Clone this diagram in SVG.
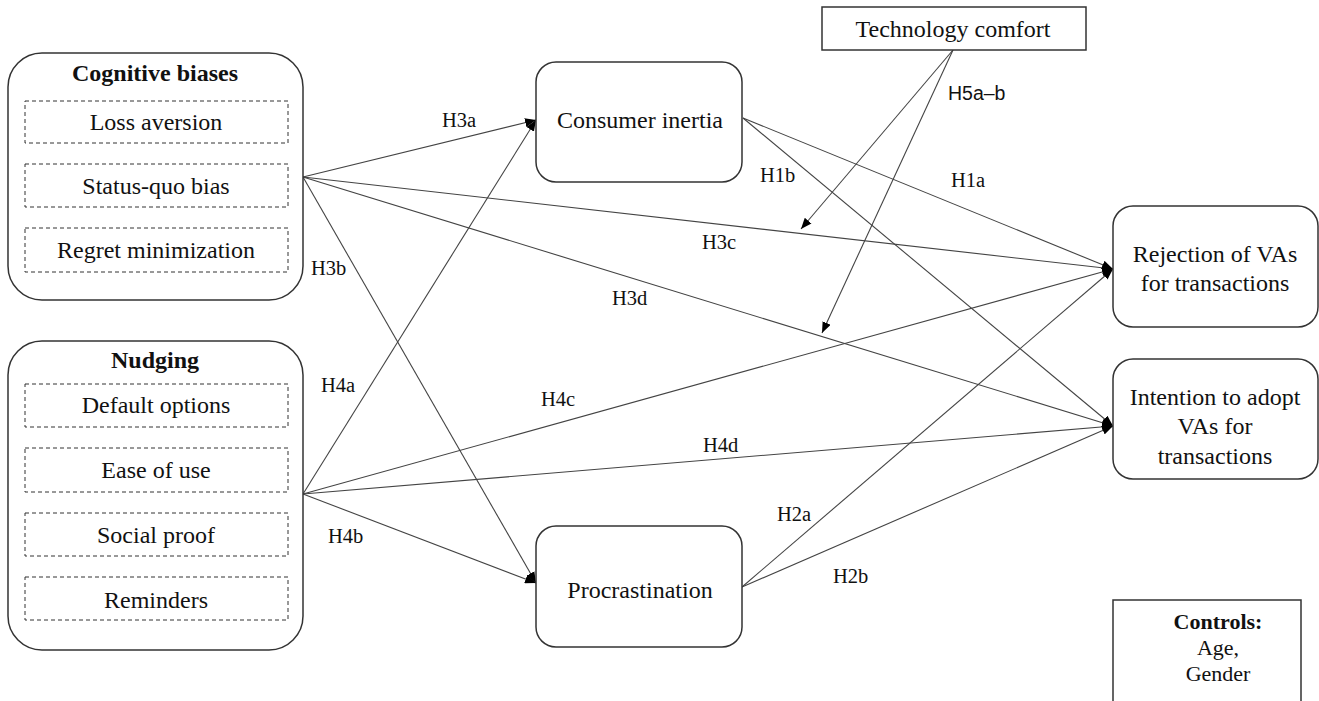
<svg xmlns="http://www.w3.org/2000/svg" width="1319" height="701" viewBox="0 0 1319 701">
<style>
.box{fill:#fff;stroke:#333;stroke-width:1.5}
.dash{fill:none;stroke:#333;stroke-width:1;stroke-dasharray:4 3}
.t{font-family:"Liberation Serif","Times New Roman",serif;font-size:24px;fill:#111;text-anchor:middle}
.b{font-weight:bold;font-size:24px}
.ct{font-size:22px}
.lab{font-family:"Liberation Serif","Times New Roman",serif;font-size:20.5px;fill:#111}
.sans{font-family:"Liberation Sans",Arial,sans-serif;font-size:19.5px;fill:#111}
.c{fill:none;stroke:#444;stroke-width:1.1;marker-end:url(#ah)}
</style>
<defs>
<marker id="ah" viewBox="0 0 10 8" refX="10" refY="4" markerWidth="11" markerHeight="9" markerUnits="userSpaceOnUse" orient="auto">
<path d="M0,0 L10,4 L0,8 z" fill="#000"/>
</marker>
</defs>
<rect width="1319" height="701" fill="#fff"/>
<g id="connectors">
<line class="c" x1="303" y1="177" x2="536" y2="120"/>
<line class="c" x1="303" y1="177" x2="536" y2="583"/>
<line class="c" x1="303" y1="177" x2="1113" y2="269"/>
<line class="c" x1="303" y1="177" x2="1113" y2="426"/>
<line class="c" x1="303" y1="494" x2="536" y2="120"/>
<line class="c" x1="303" y1="494" x2="536" y2="583"/>
<line class="c" x1="303" y1="494" x2="1113" y2="269"/>
<line class="c" x1="303" y1="494" x2="1113" y2="426"/>
<line class="c" x1="743" y1="118" x2="1113" y2="269"/>
<line class="c" x1="743" y1="118" x2="1113" y2="426"/>
<line class="c" x1="742" y1="587" x2="1113" y2="269"/>
<line class="c" x1="742" y1="587" x2="1113" y2="426"/>
<line class="c" x1="953" y1="50" x2="801" y2="229"/>
<line class="c" x1="953" y1="50" x2="822" y2="333"/>
</g>
<g id="labels">
<text class="lab" x="442" y="127">H3a</text>
<text class="lab" x="311" y="275">H3b</text>
<text class="lab" x="702" y="249">H3c</text>
<text class="lab" x="612" y="305">H3d</text>
<text class="lab" x="321" y="392">H4a</text>
<text class="lab" x="328" y="543">H4b</text>
<text class="lab" x="541" y="406">H4c</text>
<text class="lab" x="703" y="452">H4d</text>
<text class="lab" x="760" y="182">H1b</text>
<text class="lab" x="951" y="187">H1a</text>
<text class="lab" x="777" y="521">H2a</text>
<text class="lab" x="833" y="583">H2b</text>
<text class="sans" x="948" y="100">H5a–b</text>
</g>
<g id="cognitive-biases">
<rect class="box" x="8" y="53" width="295" height="247" rx="34"/>
<text class="t b" x="155" y="81">Cognitive biases</text>
<rect class="dash" x="25" y="101" width="263" height="42"/>
<text class="t" x="156" y="130">Loss aversion</text>
<rect class="dash" x="25" y="164" width="263" height="43"/>
<text class="t" x="156" y="194">Status-quo bias</text>
<rect class="dash" x="25" y="228" width="263" height="44"/>
<text class="t" x="156" y="258">Regret minimization</text>
</g>
<g id="nudging">
<rect class="box" x="8" y="341" width="295" height="309" rx="34"/>
<text class="t b" x="155" y="368">Nudging</text>
<rect class="dash" x="25" y="384" width="263" height="43"/>
<text class="t" x="156" y="413">Default options</text>
<rect class="dash" x="25" y="448" width="263" height="44"/>
<text class="t" x="156" y="478">Ease of use</text>
<rect class="dash" x="25" y="513" width="263" height="43"/>
<text class="t" x="156" y="543">Social proof</text>
<rect class="dash" x="25" y="577" width="263" height="43"/>
<text class="t" x="156" y="608">Reminders</text>
</g>
<g id="consumer-inertia">
<rect class="box" x="536" y="62" width="206" height="120" rx="20"/>
<text class="t" x="640" y="128">Consumer inertia</text>
</g>
<g id="procrastination">
<rect class="box" x="536" y="526" width="206" height="121" rx="20"/>
<text class="t" x="640" y="598">Procrastination</text>
</g>
<g id="rejection">
<rect class="box" x="1113" y="206" width="205" height="121" rx="20"/>
<text class="t" x="1215" y="262">Rejection of VAs</text>
<text class="t" x="1215" y="291">for transactions</text>
</g>
<g id="intention">
<rect class="box" x="1113" y="359" width="205" height="120" rx="20"/>
<text class="t" x="1215" y="405">Intention to adopt</text>
<text class="t" x="1215" y="434">VAs for</text>
<text class="t" x="1215" y="464">transactions</text>
</g>
<g id="technology-comfort">
<rect class="box" x="822" y="7" width="264" height="43"/>
<text class="t" x="953" y="37">Technology comfort</text>
</g>
<g id="controls">
<path class="box" d="M1113,705 V600 H1301 V705"/>
<text class="t b ct" x="1218" y="629">Controls:</text>
<text class="t ct" x="1218" y="655">Age,</text>
<text class="t ct" x="1218" y="681">Gender</text>
</g>
</svg>
